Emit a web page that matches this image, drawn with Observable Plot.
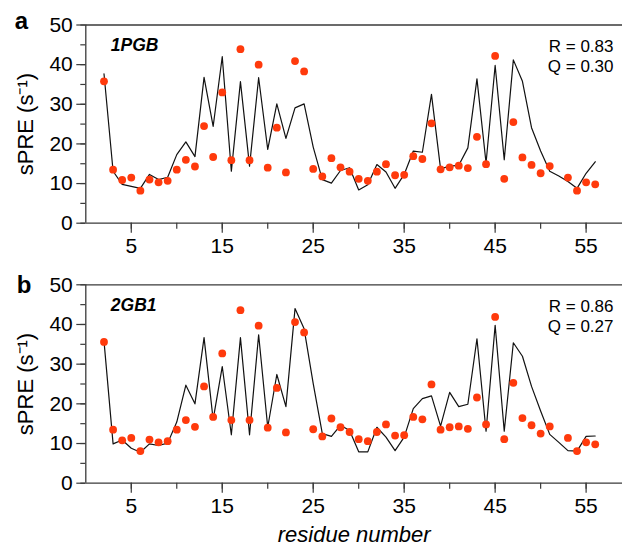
<!DOCTYPE html>
<html><head><meta charset="utf-8">
<script src="https://cdn.jsdelivr.net/npm/d3@7"></script>
<script src="https://cdn.jsdelivr.net/npm/@observablehq/plot@0.6"></script>
<style>body{margin:0;background:#fff;} #chart{width:622px;} svg{display:block;}</style>
</head><body><div id="chart"></div>
<script>
const residues = [2,3,4,5,6,7,8,9,10,11,12,13,14,15,16,17,18,19,20,21,22,23,24,25,26,27,28,29,30,31,32,33,34,35,36,37,38,39,40,41,42,43,44,45,46,47,48,49,50,51,52,53,54,55,56];

// panel a: 1PGB
const expA = [35.8,13.5,10.9,11.5,8.2,11.0,10.3,10.7,13.5,16.0,14.3,24.5,16.7,33.0,15.9,43.9,15.9,40.0,14.0,24.1,12.8,40.9,38.3,13.7,11.8,16.4,14.1,13.0,11.2,10.7,13.0,14.9,12.1,12.2,16.9,16.2,25.2,13.6,14.1,14.5,13.9,21.8,14.9,42.2,11.2,25.5,16.6,14.7,12.6,14.4,null,11.5,8.2,10.3,9.8];
const predA = [37.7,13.1,9.8,9.3,8.8,12.3,11.0,11.6,17.3,20.5,16.8,36.8,24.4,42.0,13.1,35.7,14.4,36.7,18.6,30.1,21.4,29.1,30.1,19.2,11.0,10.1,13.3,14.0,8.4,9.7,14.8,12.9,8.8,12.3,18.2,17.9,32.5,13.7,14.4,14.6,19.0,36.4,15.2,39.8,16.0,41.2,35.8,24.1,18.2,13.1,11.9,10.5,8.8,12.6,15.5];

// panel b: 2GB1
const expB = [35.6,13.5,10.8,11.4,8.1,11.0,10.3,10.6,13.5,15.9,14.2,24.4,16.7,32.7,15.9,43.6,15.9,39.7,14.0,24.0,12.8,40.6,38.0,13.6,11.8,16.3,14.1,12.9,11.1,10.6,12.9,14.8,12.0,12.1,16.7,16.1,24.9,13.5,14.1,14.3,13.7,21.6,14.8,41.9,11.1,25.3,16.4,14.6,12.5,14.3,null,11.4,8.1,10.3,9.8];
const predB = [35.8,9.9,10.9,8.8,7.8,9.9,9.5,10.1,15.4,24.7,20.0,36.7,16.0,29.4,12.2,36.7,12.2,37.4,14.1,27.4,19.3,44.0,38.9,25.1,12.5,11.8,14.6,13.3,7.9,7.9,14.1,11.6,8.2,11.6,18.8,21.3,22.0,14.4,22.9,19.3,19.9,36.4,13.1,39.8,13.1,35.4,32.0,24.4,18.2,12.3,10.3,8.2,8.1,11.8,11.9];

const xMajor = [5,15,25,35,45,55];
const xMinor = [5,10,15,20,25,30,35,40,45,50,55];
const yMajor = [0,10,20,30,40,50];
const yMinor = [0,5,10,15,20,25,30,35,40,45,50];
const yLabel = "sPRE (s\u207B\u00B9)";
const xLabel = "residue number";

const panels = [
  {letter:"a", name:"1PGB", stats:"R = 0.83\nQ = 0.30", exp:expA, pred:predA, height:260, marginTop:24.5, marginBottom:37.3, letterDx:-71, letterDy:-4, showX:false},
  {letter:"b", name:"2GB1", stats:"R = 0.86\nQ = 0.27", exp:expB, pred:predB, height:287, marginTop:24.3, marginBottom:64.3, letterDx:-69, letterDy:1, showX:true}
];

const axisColor = "#3a3a3a";
const font = "Liberation Sans, Arial, Helvetica, sans-serif";

for (const p of panels) {
  const expData = residues.map((r,i)=>({r, v:p.exp[i]})).filter(d=>d.v!=null);
  const predData = residues.map((r,i)=>({r, v:p.pred[i]}));
  const marks = [
    Plot.ruleY([0,50], {stroke:axisColor, strokeWidth:1.3}),
    Plot.ruleX([0], {stroke:axisColor, strokeWidth:1.3}),
    Plot.axisY({ticks:yMinor, tickSize:5, tickFormat:()=>"", label:null, stroke:axisColor, strokeWidth:1.2}),
    Plot.axisY({ticks:yMajor, tickSize:9, tickPadding:4, label:null, fontSize:21, stroke:axisColor, strokeWidth:1.2, fill:"#000"}),
    Plot.axisX({ticks:xMinor, tickSize:6, tickFormat:()=>"", label:null, stroke:axisColor, strokeWidth:1.2}),
    Plot.axisX({ticks:xMajor, tickSize:10, tickPadding:5, label:null, fontSize:21, stroke:axisColor, strokeWidth:1.2, fill:"#000"}),
    Plot.line(predData, {x:"r", y:"v", stroke:"#111", strokeWidth:1.2}),
    Plot.dot(expData, {x:"r", y:"v", r:3.9, fill:"#ff3a0c", stroke:"none"}),
    Plot.text([p.name], {text:d=>d, frameAnchor:"top-left", dx:25, dy:20.6, textAnchor:"start", lineAnchor:"middle", fontSize:17.5, fontWeight:"bold", fontStyle:"italic", fill:"#000"}),
    Plot.text([p.stats], {text:d=>d, frameAnchor:"top-right", dx:-9, dy:31, textAnchor:"end", lineAnchor:"middle", lineHeight:1.17, fontSize:17, fill:"#000"}),
    Plot.text([p.letter], {text:d=>d, frameAnchor:"top-left", dx:p.letterDx, dy:p.letterDy, textAnchor:"start", lineAnchor:"middle", fontSize:24, fontWeight:"bold", fill:"#000"}),
    Plot.text([yLabel], {text:d=>d, frameAnchor:"left", dx:-60, rotate:-90, textAnchor:"middle", lineAnchor:"middle", fontSize:22, fill:"#000"})
  ];
  if (p.showX) marks.push(Plot.text([xLabel], {text:d=>d, frameAnchor:"bottom", dy:52, lineAnchor:"middle", fontSize:22, fontStyle:"italic", fill:"#000"}));
  const chart = Plot.plot({
    width:622, height:p.height,
    marginLeft:85.3, marginRight:0, marginTop:p.marginTop, marginBottom:p.marginBottom,
    style:{fontFamily:font, background:"#fff", overflow:"visible"},
    x:{domain:[0,59], label:null},
    y:{domain:[0,50], label:null},
    marks
  });
  document.getElementById("chart").appendChild(chart);
}
</script>
</body></html>
